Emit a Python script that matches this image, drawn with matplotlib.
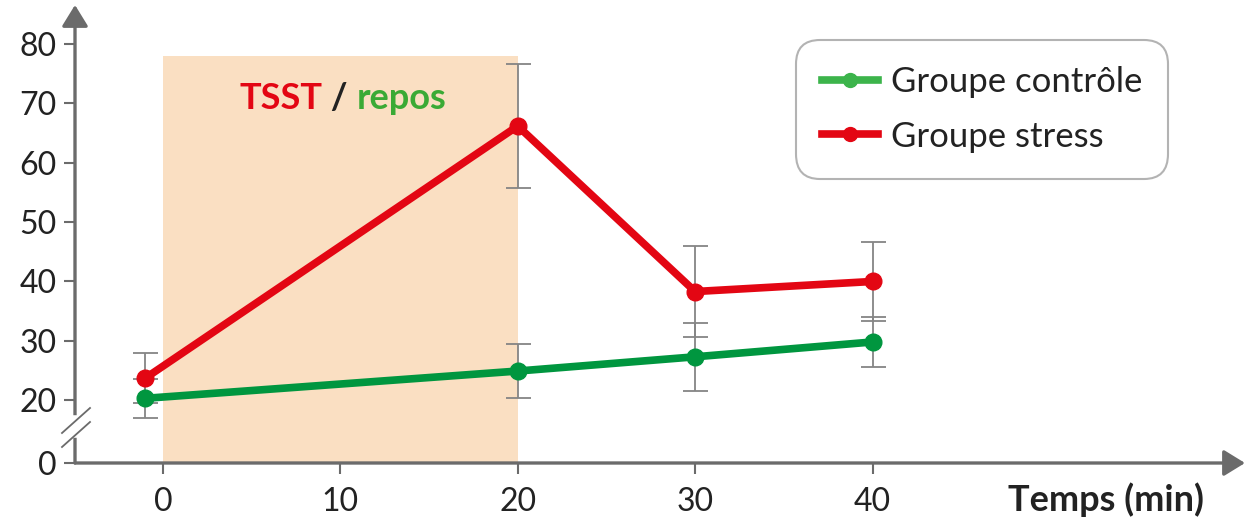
import matplotlib
matplotlib.use('Agg')
import matplotlib.pyplot as plt
from matplotlib.lines import Line2D

plt.rcParams['font.family'] = ['Lato', 'DejaVu Sans']

# données
temps = [-1, 20, 30, 40]
stress = [23.7, 66.2, 38.3, 40.0]
stress_err = [4.2, 10.5, 7.7, 6.7]
controle = [20.3, 24.9, 27.3, 29.8]
controle_err = [3.3, 4.5, 5.7, 4.2]
x_ticks = [0, 10, 20, 30, 40]
y_ticks = [20, 30, 40, 50, 60, 70, 80]
y_tick_labels = ['0', '20', '30', '40', '50', '60', '70', '80']
phase = [0, 20]
phase_top = 78
series_labels = ['Groupe contrôle', 'Groupe stress']

RED = '#e30613'
GREEN = '#00963f'
GREEN_LEG = '#3cb44b'
GREY = '#6b6b6b'
ERR = '#858585'
PEACH = '#fadfc2'

W, H = 1247, 524
Y_BOTTOM = 9.4   # position of the "0" after the axis break
Y_TOP = 86.6
X_LEFT = -4.96
X_RIGHT = 61.0

fig = plt.figure(figsize=(W / 100, H / 100), dpi=100)
ax = fig.add_axes([75 / W, (H - 463) / H, (1245 - 75) / W, (463 - 5) / H])
ax.set_xlim(X_LEFT, X_RIGHT)
ax.set_ylim(Y_BOTTOM, Y_TOP)
for s in ax.spines.values():
    s.set_visible(False)

# shaded TSST period
ax.fill_between(phase, Y_BOTTOM, phase_top, color=PEACH, lw=0, zorder=0)

ax.errorbar(temps, controle, yerr=controle_err, fmt='none', ecolor=ERR,
            elinewidth=1.3, capsize=9, capthick=1.3, zorder=2)
ax.errorbar(temps, stress, yerr=stress_err, fmt='none', ecolor=ERR,
            elinewidth=1.3, capsize=9, capthick=1.3, zorder=2)
ax.plot(temps, controle, color=GREEN, lw=5.5, marker='o', ms=12,
        solid_capstyle='round', zorder=3)
ax.plot(temps, stress, color=RED, lw=5.5, marker='o', ms=12,
        solid_capstyle='round', zorder=4)

# axes with arrows
arrow = dict(arrowstyle='-|>,head_length=0.65,head_width=0.4', color=GREY,
             lw=2.4, mutation_scale=20, shrinkA=0, shrinkB=0)
ax.annotate('', xy=(1, 0), xytext=(0, 0), xycoords='axes fraction',
            arrowprops=arrow, annotation_clip=False)
ax.annotate('', xy=(0, 1), xytext=(0, 0), xycoords='axes fraction',
            arrowprops=arrow, annotation_clip=False)

# axis break
def px(x, y):
    return x / W, 1 - y / H

fig.add_artist(Line2D(*zip(px(75, 418), px(75, 435)), color='white', lw=4,
                      transform=fig.transFigure, zorder=10))
for dy in (0, 14):
    fig.add_artist(Line2D(*zip(px(62, 433 + dy), px(90, 408 + dy)), color=GREY,
                          lw=1.3, transform=fig.transFigure, zorder=11))

ax.set_xticks(x_ticks)
ax.set_yticks([Y_BOTTOM] + y_ticks)
ax.set_yticklabels(y_tick_labels)
ax.tick_params(axis='both', colors=GREY, labelcolor='#222222', labelsize=23,
               width=1.5, length=8)
ax.tick_params(axis='x', pad=9)
ax.tick_params(axis='y', pad=5)

fig.text(1008 / W, 1 - 500 / H, 'Temps (min)', fontsize=26, fontweight='bold',
         color='#222222', va='center', ha='left')

# TSST / repos
t1 = ax.text(4.3, 70.9, 'TSST', color=RED, fontsize=26, fontweight='bold',
             va='center', ha='left')
t2 = ax.annotate(' / ', xy=(1, 0), xycoords=t1, va='bottom', ha='left',
                 fontsize=26, fontweight='bold', color='#222222')
ax.annotate('repos', xy=(1, 0), xycoords=t2, va='bottom', ha='left',
            fontsize=26, fontweight='bold', color='#3aaa35')

handles = [Line2D([], [], color=GREEN_LEG, lw=5.5, marker='o', ms=10),
           Line2D([], [], color=RED, lw=5.5, marker='o', ms=10)]
leg = ax.legend(handles, series_labels, loc='upper right',
                bbox_to_anchor=((1168 - 75) / 1170, (463 - 40) / 458),
                borderaxespad=0, fontsize=25, frameon=True, fancybox=True,
                handlelength=1.6, handletextpad=0.37, labelspacing=0.65,
                borderpad=0.75)
leg.get_frame().set_edgecolor('#a0a0a0')
leg.get_frame().set_linewidth(1.5)
leg.get_frame().set_boxstyle('round', pad=0, rounding_size=0.7)
for t in leg.get_texts():
    t.set_color('#222222')

fig.savefig('out.png', dpi=100)
